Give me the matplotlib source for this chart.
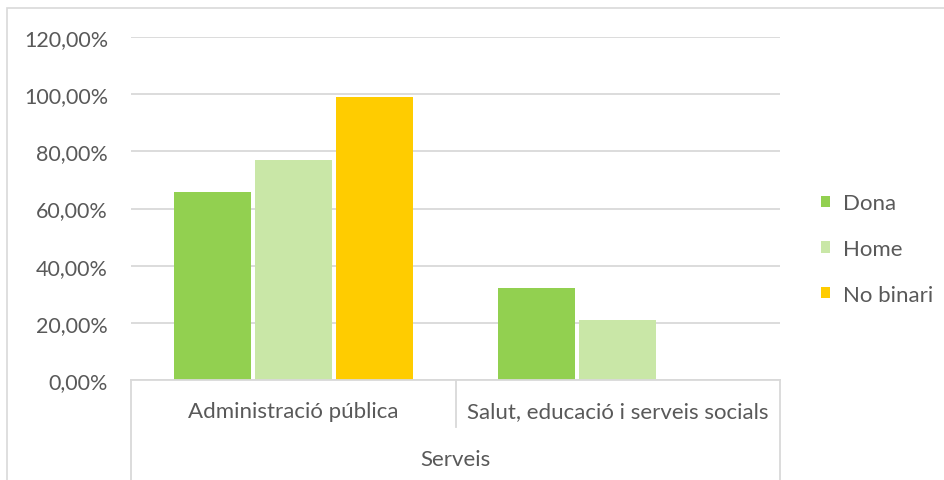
import numpy as np
import matplotlib.pyplot as plt
from matplotlib.patches import Rectangle
from matplotlib.lines import Line2D

# ---------------------------------------
# Data
# ---------------------------------------

categories = ["Administració pública", "Salut, educació i serveis socials"]
group_label = "Serveis"

series = ["Dona", "Home", "No binari"]
dona = [65.7, 32.2]
home = [76.9, 21.1]
no_binari = [99.0, 0.0]

values = [dona, home, no_binari]
colors = ["#92D050", "#C9E7A7", "#FFCC00"]

yticks = [0, 20, 40, 60, 80, 100, 120]

text_color = "#595959"
grid_color = "#D9D9D9"

plt.rcParams["font.family"] = ["Lato", "DejaVu Sans"]

# ---------------------------------------
# Figure
# ---------------------------------------

W, H = 945, 481
fig = plt.figure(figsize=(W / 100, H / 100), dpi=100)

# outer chart frame
fig.patches.append(Rectangle(
    (7 / W, -0.1), 1.2, 1 - 9 / H + 0.1,
    transform=fig.transFigure, fill=False,
    edgecolor=grid_color, linewidth=1.2
))

ax = fig.add_axes([131 / W, 100 / H, 649 / W, 343 / H])

x = np.arange(len(categories))
bar_w = 0.237
step = 0.25

for i, (name, vals, col) in enumerate(zip(series, values, colors)):
    ax.bar(
        x + (i - 1) * step,
        vals,
        width=bar_w,
        color=col,
        label=name,
        zorder=3
    )

ax.set_xlim(-0.5, len(categories) - 0.5)
ax.set_ylim(0, 120)
ax.set_yticks(yticks)
ax.set_yticklabels([f"{v:.2f}".replace(".", ",") + "%" for v in yticks])
ax.tick_params(axis="y", length=0, pad=16.5, labelsize=15.5, colors=text_color)
ax.set_xticks([])

ax.yaxis.grid(True, color=grid_color, linewidth=1.3, zorder=0)

for side in ["top", "right", "left", "bottom"]:
    ax.spines[side].set_visible(False)

# category axis line and separators
ax.add_line(Line2D([-0.5, 1.5], [0, 0], color=grid_color, linewidth=1.3,
                   clip_on=False, zorder=4))

trans = ax.get_xaxis_transform()
sep_short = -47 / 343
sep_long = -100 / 343
ax.add_line(Line2D([0.5, 0.5], [0, sep_short], transform=trans,
                   color=grid_color, linewidth=1.3, clip_on=False))
for xs in [-0.5, 1.5]:
    ax.add_line(Line2D([xs, xs], [0, sep_long], transform=trans,
                       color=grid_color, linewidth=1.3, clip_on=False))

for xi, cat in zip(x, categories):
    ax.text(xi, -31 / 343, cat, transform=trans, ha="center", va="center",
            fontsize=16, color=text_color)

ax.text(0.5, -79 / 343, group_label, transform=trans, ha="center",
        va="center", fontsize=16, color=text_color)

# legend
ax.legend(
    loc="center left",
    bbox_to_anchor=((810 - 131) / 649, (381 - 250) / 343),
    frameon=False,
    fontsize=16,
    labelcolor=text_color,
    handlelength=0.4,
    handleheight=0.4,
    handletextpad=0.6,
    labelspacing=1.15,
    borderpad=0
)

fig.savefig("out.png", dpi=100)
